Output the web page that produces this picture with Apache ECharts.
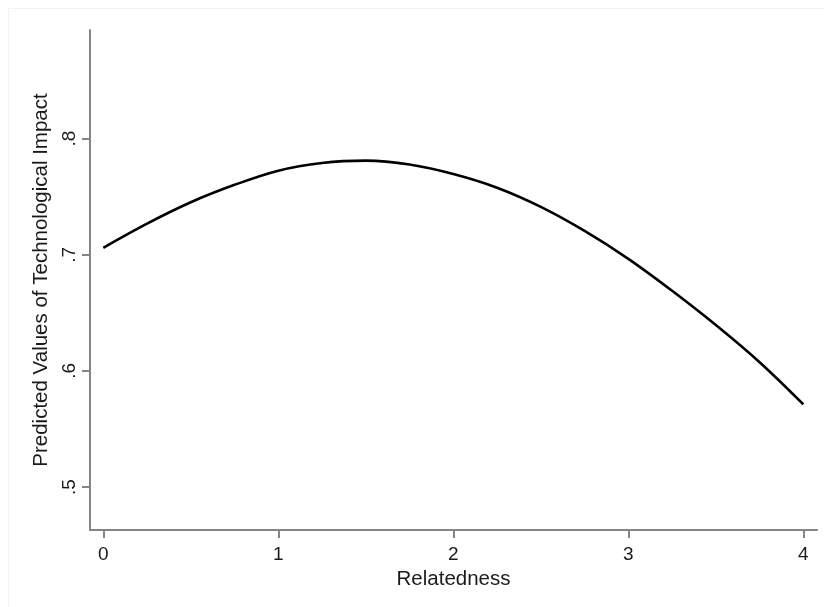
<!DOCTYPE html>
<html>
<head>
<meta charset="utf-8">
<script src="https://cdn.jsdelivr.net/npm/echarts@6/dist/echarts.min.js"></script>
<style>
  html, body { margin: 0; padding: 0; background: #fff; }
  #chart { width: 824px; height: 607px; }
</style>
</head>
<body>
<div id="chart"></div>
<script>
// relatedness values along the x axis
var relatedness = [0, 0.25, 0.5, 0.75, 1, 1.25, 1.5, 1.75, 2, 2.25, 2.5, 2.75, 3, 3.25, 3.5, 3.75, 4];
// predicted technological impact
var predicted = [0.706, 0.7268, 0.7452, 0.7602, 0.7724, 0.779, 0.781, 0.7777, 0.7695, 0.7577, 0.7412, 0.7205, 0.6965, 0.669, 0.6395, 0.6075, 0.5712];
var xTicks = [0, 1, 2, 3, 4];
var yTicks = [0.5, 0.6, 0.7, 0.8];

var pts = [];
for (let i = 0; i < relatedness.length; i++) {
    pts.push([relatedness[i], predicted[i]]);
}

var myChart = echarts.init(document.getElementById('chart'));
var axisGray = '#858585';
var font = 'Liberation Sans, Arial, sans-serif';

var option = {
    animation: false,
    backgroundColor: '#fff',
    graphic: [{
        type: 'rect',
        shape: { x: 8.5, y: 8.5, width: 830, height: 620 },
        style: { fill: 'none', stroke: '#f2f2f2', lineWidth: 1 },
        silent: true
    }],
    grid: { left: 90, right: 7, top: 30, bottom: 77 },
    xAxis: {
        type: 'value',
        min: -0.076,
        max: 4.078,
        name: 'Relatedness',
        nameLocation: 'middle',
        nameGap: 36,
        nameTextStyle: { fontSize: 20.5, color: '#1a1a1a', fontFamily: font },
        axisLine: { onZero: false, lineStyle: { color: axisGray, width: 2 } },
        axisTick: { show: true, length: 8, customValues: xTicks, lineStyle: { color: axisGray, width: 2 } },
        axisLabel: { customValues: xTicks, margin: 15, fontSize: 19, color: '#1a1a1a', fontFamily: font },
        splitLine: { show: false }
    },
    yAxis: {
        type: 'value',
        min: 0.463,
        max: 0.8935,
        name: 'Predicted Values of Technological Impact',
        nameLocation: 'middle',
        nameGap: 31,
        nameTextStyle: { fontSize: 20.5, color: '#1a1a1a', fontFamily: font },
        axisLine: { show: true, onZero: false, lineStyle: { color: axisGray, width: 2 } },
        axisTick: { show: true, length: 8, customValues: yTicks, lineStyle: { color: axisGray, width: 2 } },
        axisLabel: {
            customValues: yTicks,
            rotate: 90,
            margin: 11,
            fontSize: 19,
            color: '#1a1a1a',
            fontFamily: font,
            formatter: function(v) { return String(Math.round(v * 10) / 10).replace('0.', '.'); }
        },
        splitLine: { show: false }
    },
    series: [{
        type: 'line',
        data: pts,
        smooth: 0.35,
        showSymbol: false,
        lineStyle: { color: '#000', width: 2.6 }
    }]
};
myChart.setOption(option);
</script>
</body>
</html>
